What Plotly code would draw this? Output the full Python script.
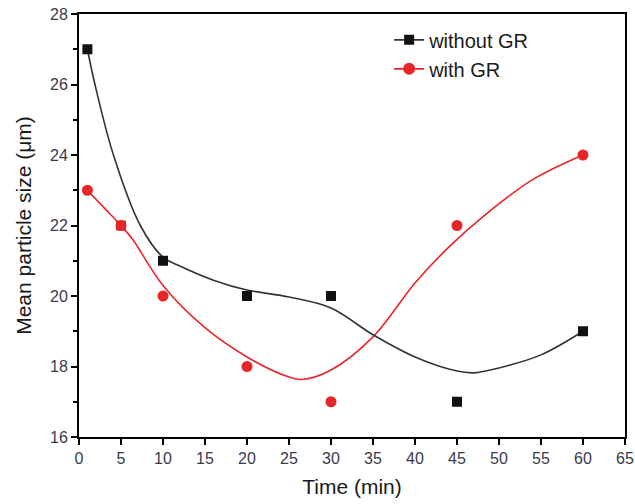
import plotly.graph_objects as go

# Measured data points
time_min = [1, 5, 10, 20, 30, 45, 60]
without_gr = [27, 22, 21, 20, 20, 17, 19]
with_gr = [23, 22, 20, 18, 17, 22, 24]

# Smooth fitted curves
fit_x_without = [1, 1.9, 4.1, 7.3, 10, 12, 16, 20, 25, 30, 35, 40, 45, 47, 50, 55, 60]
fit_y_without = [27, 26.0, 24.0, 22.0, 21.1, 20.85, 20.45, 20.17, 19.97, 19.66, 18.9, 18.27, 17.87, 17.82, 17.96, 18.33, 19.0]
fit_x_with = [1, 3, 5, 6.4, 10, 15, 20, 25, 26.5, 30, 35, 40, 43.9, 48.6, 54, 60]
fit_y_with = [23, 22.5, 22.0, 21.6, 20.3, 19.1, 18.27, 17.7, 17.63, 17.9, 18.84, 20.37, 21.36, 22.35, 23.3, 24.0]

BLACK = "#111111"
LINE_BLACK = "#333333"
RED = "#e8262a"
FONT = "Arial, Liberation Sans, sans-serif"

fig = go.Figure()

fig.add_trace(go.Scatter(x=fit_x_with, y=fit_y_with, mode="lines", line=dict(color=RED, width=1.6, shape="spline", smoothing=1.0), showlegend=False, hoverinfo="skip"))
fig.add_trace(go.Scatter(x=fit_x_without, y=fit_y_without, mode="lines", line=dict(color=LINE_BLACK, width=1.6, shape="spline", smoothing=1.0), showlegend=False, hoverinfo="skip"))

fig.add_trace(go.Scatter(x=time_min, y=with_gr, mode="markers", marker=dict(symbol="circle", size=11, color=RED), showlegend=False))
black_colors = [BLACK] * len(time_min)
black_colors[1] = RED
fig.add_trace(go.Scatter(x=time_min, y=without_gr, mode="markers", marker=dict(symbol="square", size=10, color=black_colors), showlegend=False))

# legend entries
fig.add_trace(go.Scatter(x=[None], y=[None], mode="lines+markers", name="without GR", line=dict(color=LINE_BLACK, width=1.6), marker=dict(symbol="square", size=10, color=BLACK)))
fig.add_trace(go.Scatter(x=[None], y=[None], mode="lines+markers", name="with GR", line=dict(color=RED, width=1.6), marker=dict(symbol="circle", size=12, color=RED)))

axis_common = dict(showline=True, linecolor="#000000", linewidth=2, mirror=True, showgrid=False, zeroline=False,
                   ticks="outside", ticklen=6, tickwidth=1.5, tickcolor="#000000", automargin=False,
                   tickfont=dict(family=FONT, size=16, color="#3a3a4c"))

fig.update_xaxes(range=[0, 65], tick0=0, dtick=5,
                 title=dict(text="Time (min)", font=dict(family=FONT, size=21, color="#1a1a1a"), standoff=13),
                 **axis_common)
fig.update_yaxes(range=[16, 28], tick0=16, dtick=2,
                 minor=dict(ticks="outside", ticklen=4, tickwidth=1.5, tickcolor="#000000", dtick=1, showgrid=False),
                 title=dict(text="Mean particle size (μm)", font=dict(family=FONT, size=21, color="#1a1a1a"), standoff=13),
                 **axis_common)

fig.update_layout(
    width=635, height=504,
    margin=dict(l=79, r=10, t=14, b=67),
    plot_bgcolor="white", paper_bgcolor="white",
    legend=dict(x=0.568, y=0.985, xanchor="left", yanchor="top", bgcolor="rgba(0,0,0,0)",
                font=dict(family=FONT, size=20, color="#1a1a1a"),
                tracegroupgap=0),
)

fig.write_html("out.html", config={"displayModeBar": False},
               post_script="document.body.style.margin='0';document.body.style.overflow='hidden';")
